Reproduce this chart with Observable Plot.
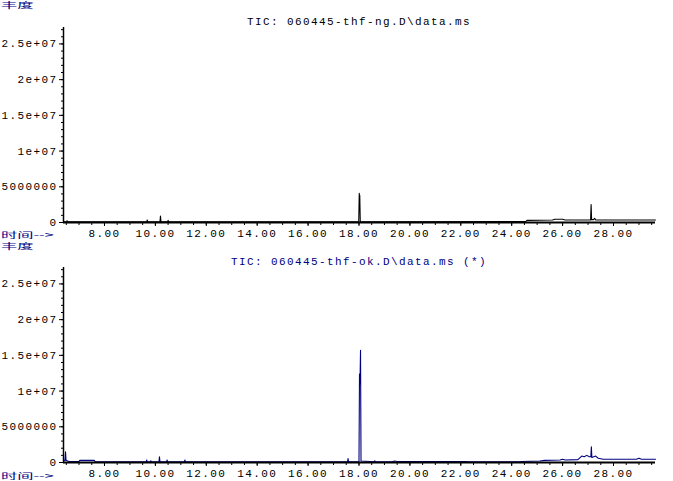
<!DOCTYPE html>
<html><head><meta charset="utf-8">
<script src="https://cdn.jsdelivr.net/npm/d3@7"></script>
<script src="https://cdn.jsdelivr.net/npm/@observablehq/plot@0.6"></script>
<style>
body{margin:0;background:#fff;}
#wrap{position:relative;width:673px;height:481px;overflow:hidden;background:#fff;}
.panel{position:absolute;left:0;}
svg text{letter-spacing:1.4px;}
.ttl{position:absolute;left:0;width:718px;text-align:center;font-family:"Liberation Mono",monospace;font-size:11px;letter-spacing:1.4px;white-space:nowrap;line-height:1;}
.cn{position:absolute;left:1px;font-family:"Noto Sans CJK SC",sans-serif;font-size:12px;color:#000080;transform-origin:left top;transform:scale(1.35,0.68);white-space:nowrap;line-height:1;}
</style></head>
<body>
<div id="wrap"></div>
<script>
// ---- data ----
const xDomain = [6.39, 29.65];
const yDomain = [0, 2.73e7];
const xMajor = [8, 10, 12, 14, 16, 18, 20, 22, 24, 26, 28];
const xMinor = d3.range(6.5, 29.6, 0.5);
const yMajor = [0, 5e6, 1e7, 1.5e7, 2e7, 2.5e7];
const yLabels = ["0", "5000000", "1e+07", "1.5e+07", "2e+07", "2.5e+07"];
const yMinor = d3.range(0, 2.71e7, 1e6);

const titleTop = "TIC: 060445-thf-ng.D\\data.ms";
const titleBottom = "TIC: 060445-thf-ok.D\\data.ms (*)";
const yName = "丰度";
const xName = "时间-->";

const topTimes = [6.39, 6.5, 6.53, 6.56, 9.66, 9.68, 9.7, 10.18, 10.2, 10.22, 10.48, 10.5, 10.52, 17.99, 18.01, 18.02, 18.03, 18.05, 24.55, 24.6, 25.6, 25.7, 26.0, 26.1, 27.1, 27.12, 27.14, 27.22, 27.26, 27.3, 29.65];
const topValues = [0.1e6, 0.1e6, 0.25e6, 0.1e6, 0.1e6, 0.35e6, 0.1e6, 0.1e6, 0.9e6, 0.12e6, 0.1e6, 0.3e6, 0.1e6, 0.1e6, 4.1e6, 3.5e6, 3.8e6, 0.1e6, 0.12e6, 0.3e6, 0.35e6, 0.45e6, 0.45e6, 0.35e6, 0.35e6, 2.5e6, 0.4e6, 0.4e6, 0.6e6, 0.35e6, 0.35e6];

const botTimes = [6.39, 6.45, 6.47, 6.49, 6.6, 7.0, 7.03, 7.6, 7.63, 9.64, 9.66, 9.68, 9.8, 9.82, 9.84, 10.14, 10.16, 10.18, 10.44, 10.46, 10.48, 11.14, 11.16, 11.18, 17.55, 17.57, 17.59, 18.0, 18.02, 18.04, 18.06, 18.08, 18.6, 18.62, 18.64, 19.3, 19.4, 19.5, 22.2, 22.3, 24.3, 24.4, 25.1, 25.3, 25.9, 26.0, 26.1, 26.6, 26.75, 26.85, 26.95, 27.05, 27.11, 27.13, 27.15, 27.3, 27.4, 27.6, 28.9, 29.0, 29.1, 29.65];
const botValues = [0.3e6, 0.3e6, 1.5e6, 0.3e6, 0.15e6, 0.15e6, 0.3e6, 0.3e6, 0.1e6, 0.1e6, 0.35e6, 0.1e6, 0.1e6, 0.25e6, 0.1e6, 0.1e6, 0.8e6, 0.12e6, 0.1e6, 0.35e6, 0.1e6, 0.1e6, 0.35e6, 0.1e6, 0.1e6, 0.55e6, 0.1e6, 0.1e6, 12.4e6, 11e6, 15.7e6, 0.2e6, 0.1e6, 0.25e6, 0.1e6, 0.1e6, 0.2e6, 0.15e6, 0.15e6, 0.1e6, 0.1e6, 0.15e6, 0.2e6, 0.3e6, 0.35e6, 0.45e6, 0.35e6, 0.4e6, 0.9e6, 0.8e6, 1.0e6, 0.8e6, 0.8e6, 2.2e6, 0.7e6, 0.9e6, 0.6e6, 0.45e6, 0.45e6, 0.6e6, 0.45e6, 0.45e6];

// ---- drawing ----
function panel(times, values, color, height, mTop, mBottom) {
  const data = times.map((t, i) => ({t, v: values[i]}));
  return Plot.plot({
    width: 673, height,
    marginLeft: 63, marginRight: 18, marginTop: mTop, marginBottom: mBottom,
    x: {domain: xDomain},
    y: {domain: yDomain},
    style: {fontFamily: "Liberation Mono, monospace", fontSize: "11px", color: "black", background: "white"},
    marks: [
      Plot.axisY({ticks: yMinor, tickSize: 2, text: null, label: null}),
      Plot.axisY({ticks: yMajor, tickSize: 4, tickPadding: 2, label: null,
        tickFormat: d => yLabels[yMajor.indexOf(d)]}),
      Plot.axisX({ticks: xMinor, tickSize: 3, text: null, label: null}),
      Plot.axisX({ticks: xMajor, tickSize: 4, tickPadding: 3, label: null,
        tickFormat: d => d.toFixed(2)}),
      Plot.ruleX([xDomain[0]], {stroke: "black", strokeWidth: 1.5}),
      Plot.line(data, {x: "t", y: "v", stroke: color, strokeWidth: 1.1}),
      Plot.ruleY([0], {stroke: "black", strokeWidth: 2})
    ]
  });
}

const wrap = document.getElementById("wrap");
const p1 = panel(topTimes, topValues, "black", 245, 27, 23);
p1.classList.add("panel"); p1.style.top = "0px";
wrap.appendChild(p1);
const p2 = panel(botTimes, botValues, "#000080", 236, 22, 19);
p2.classList.add("panel"); p2.style.top = "245px";
wrap.appendChild(p2);

function addDiv(cls, text, top, color) {
  const d = document.createElement("div");
  d.className = cls; d.textContent = text; d.style.top = top + "px";
  if (color) d.style.color = color;
  wrap.appendChild(d);
}
addDiv("ttl", titleTop, 17, "black");
addDiv("ttl", titleBottom, 257, "#000080");
addDiv("cn", yName, 1);
addDiv("cn", xName, 231);
addDiv("cn", yName, 242);
addDiv("cn", xName, 472);
</script>
</body></html>
